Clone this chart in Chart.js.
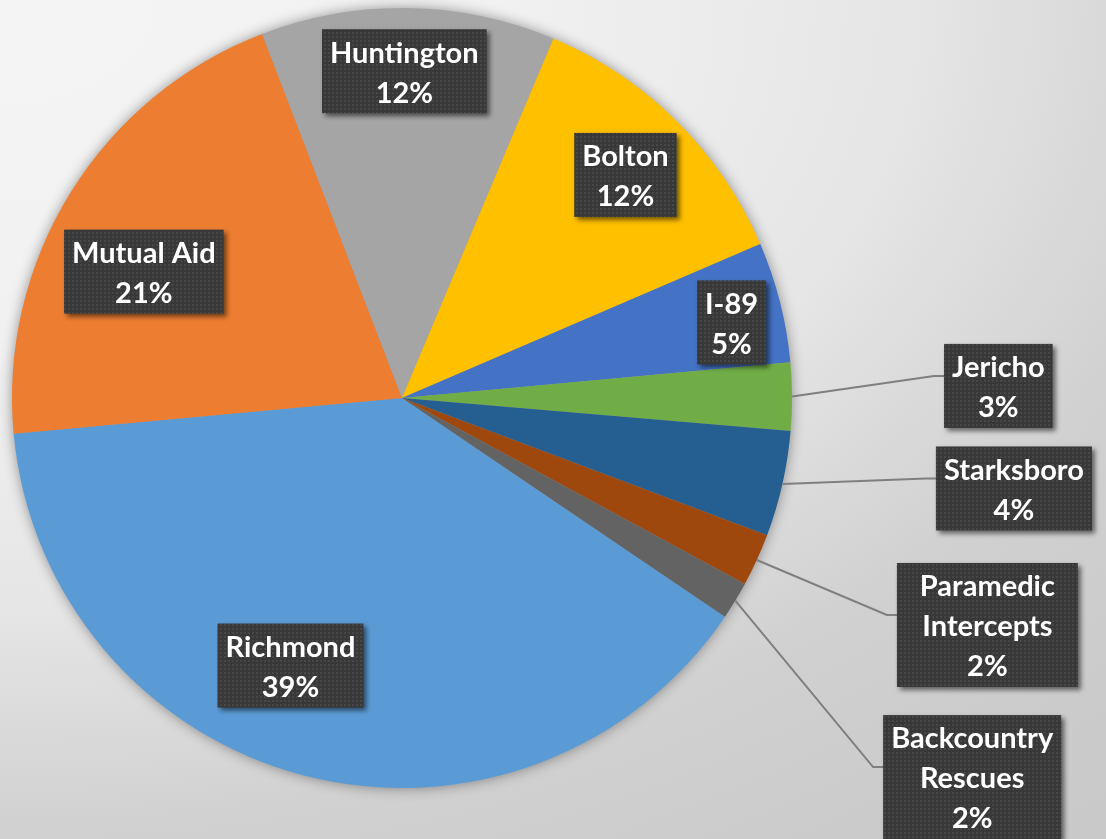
<!DOCTYPE html>
<html>
<head>
<meta charset="utf-8">
<title>Llamadas por zona</title>
<script src="https://cdn.jsdelivr.net/npm/chart.js@4.4.1/dist/chart.umd.min.js"></script>
<style>
  html, body { margin: 0; padding: 0; }
  body {
    width: 1106px; height: 839px; overflow: hidden;
    background: radial-gradient(ellipse 1680px 1120px at 0 0, #f4f4f4 0%, #f1f1f1 30%, #e6e6e6 54%, #d9d9d9 66%, #d0d0d0 75%, #c8c8c8 100%);
  }
  canvas { display: block; }
</style>
</head>
<body>
<canvas id="grafLlamadas" width="1106" height="839"></canvas>
<script>
/*======== DATOS =============*/
const zonas = ['Richmond', 'Mutual Aid', 'Huntington', 'Bolton', 'I-89', 'Jericho', 'Starksboro', ['Paramedic', 'Intercepts'], ['Backcountry', 'Rescues']];
const llamadas = [125, 66, 39, 39, 16, 9, 14, 7, 5];
const colores = ['#5B9BD5', '#ED7D31', '#A5A5A5', '#FFC000', '#4472C4', '#70AD47', '#255E91', '#9E480E', '#636363'];

// centro de cada etiqueta, en radios desde el centro del pastel, y ancho minimo de la caja
const posEtiquetas = [
	[-0.286, 0.686, 0], [-0.662, -0.324, 0], [0.006, -0.838, 0], [0.573, -0.572, 0], [0.845, -0.194, 0],
	[1.529, -0.031, 0], [1.569, 0.232, 0], [1.501, 0.582, 181], [1.462, 0.972, 0]
];

const total = llamadas.reduce((a, b) => a + b, 0);

/*======== TRAMA DE LAS CAJAS =============*/
function tramaCaja(ctx){
	const c = document.createElement('canvas');
	c.width = 4; c.height = 4;
	const t = c.getContext('2d');
	t.fillStyle = '#383838';
	t.fillRect(0, 0, 4, 4);
	t.fillStyle = '#474747';
	t.fillRect(0, 0, 2, 2);
	return ctx.createPattern(c, 'repeat');
}

/*======== SOMBRA DEL PASTEL =============*/
const sombraPastel = {
	id: 'sombraPastel',
	beforeDatasetsDraw(chart){
		const arc = chart.getDatasetMeta(0).data[0];
		if(!arc) return;
		const ctx = chart.ctx;
		ctx.save();
		ctx.shadowColor = 'rgba(0, 0, 0, 0.45)';
		ctx.shadowBlur = 14;
		ctx.fillStyle = '#9a9a9a';
		ctx.beginPath();
		ctx.arc(arc.x, arc.y, arc.outerRadius - 1, 0, Math.PI * 2);
		ctx.fill();
		ctx.restore();
	}
};

/*======== ETIQUETAS =============*/
const etiquetas = {
	id: 'etiquetas',
	afterDatasetsDraw(chart){
		const ctx = chart.ctx;
		const arcos = chart.getDatasetMeta(0).data;
		const trama = tramaCaja(ctx);
		ctx.save();
		ctx.font = 'bold 29px Lato';
		ctx.textAlign = 'center';
		ctx.textBaseline = 'middle';

		arcos.forEach((arc, i) => {
			const nombre = zonas[i];
			const lineas = (Array.isArray(nombre) ? nombre.slice() : [nombre]);
			lineas.push(Math.round(llamadas[i] / total * 100) + '%');

			const r = arc.outerRadius;
			const pos = posEtiquetas[i];
			const cx = arc.x + pos[0] * r;
			const cy = arc.y + pos[1] * r;
			const ancho = Math.max(pos[2], Math.max(...lineas.map(l => ctx.measureText(l).width)) + 16);
			const alto = lineas.length * 40 + 4;
			const x0 = cx - ancho / 2, y0 = cy - alto / 2;

			// linea guia para las etiquetas de fuera
			if(Math.hypot(pos[0], pos[1]) > 1.1){
				const medio = (arc.startAngle + arc.endAngle) / 2;
				const px = arc.x + Math.cos(medio) * r;
				const py = arc.y + Math.sin(medio) * r;
				const ay = cy - 10;
				ctx.strokeStyle = '#7f7f7f';
				ctx.lineWidth = 2;
				ctx.beginPath();
				ctx.moveTo(px, py);
				ctx.lineTo(x0 - 10, ay);
				ctx.lineTo(x0, ay);
				ctx.stroke();
			}

			ctx.save();
			ctx.shadowColor = 'rgba(0, 0, 0, 0.55)';
			ctx.shadowBlur = 5;
			ctx.shadowOffsetX = 3;
			ctx.shadowOffsetY = 3;
			ctx.fillStyle = trama;
			ctx.fillRect(x0, y0, ancho, alto);
			ctx.restore();

			ctx.fillStyle = '#ffffff';
			lineas.forEach((l, k) => {
				ctx.fillText(l, cx, y0 + 4 + 20 + 40 * k);
			});
		});
		ctx.restore();
	}
};

/*======== GRAFICA =============*/
const grafLlamadas = document.getElementById('grafLlamadas').getContext('2d');
new Chart(grafLlamadas, {
	type: 'pie',
	data: {
		labels: zonas,
		datasets: [{
			data: llamadas,
			backgroundColor: colores,
			borderWidth: 0
		}]
	},
	options: {
		responsive: false,
		animation: false,
		rotation: 124.1,
		layout: { padding: { left: 12, top: 8, right: 314, bottom: 51 } },
		plugins: {
			legend: { display: false },
			tooltip: { enabled: false }
		}
	},
	plugins: [sombraPastel, etiquetas]
});
</script>
</body>
</html>
